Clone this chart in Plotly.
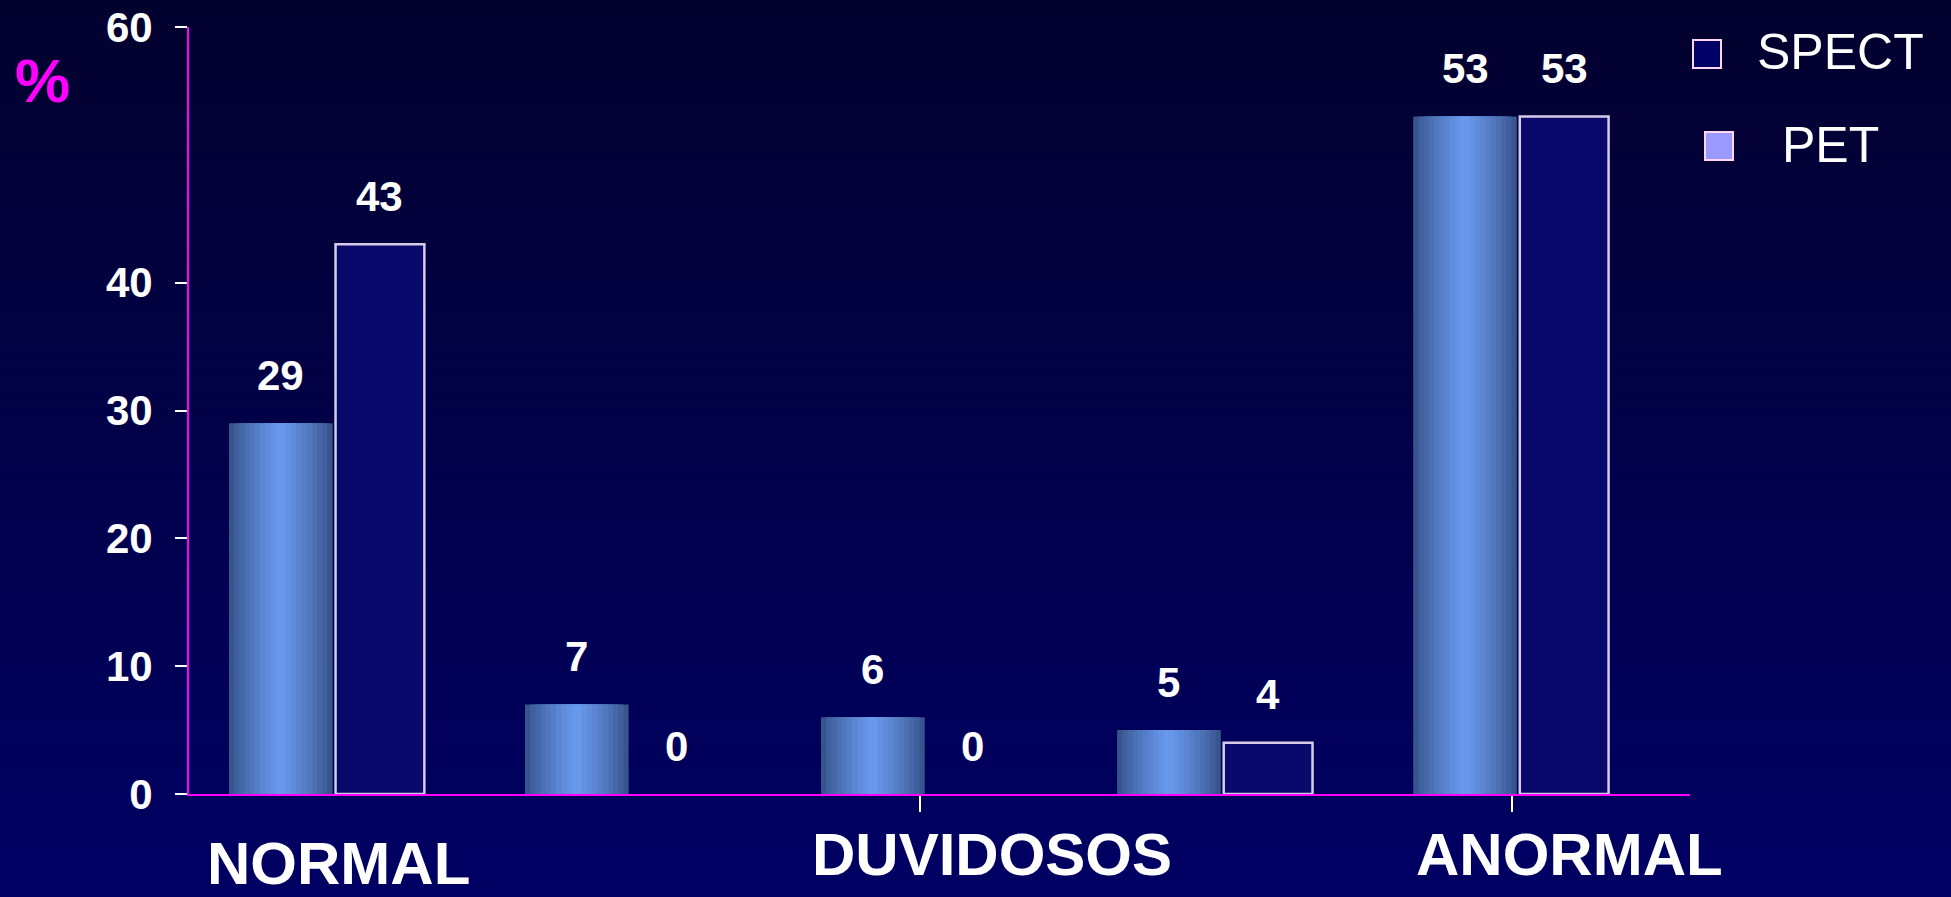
import plotly.graph_objects as go

# ---- data ----
slot_index = [0, 1, 2, 3, 4]
x_tick_slots = [2, 4]
x_label_text = ["NORMAL", "DUVIDOSOS", "ANORMAL"]
pet_values = [29, 7, 6, 5, 53]
spect_values = [43, 0, 0, 4, 53]
y_tick_values = [0, 10, 20, 30, 40, 60]

# ---- geometry (pixels) ----
W, H = 1951, 897
ML, MR, MT, MB = 189, 261, 27, 103
PW, PH = W - ML - MR, H - MT - MB


def px(xp):
    return (xp - ML) / PW


def py(yp):
    return (H - MB - yp) / PH


FONT = "Liberation Sans, Arial, sans-serif"
PET_W, PET_OFF = 0.35, -0.335
SPECT_W, SPECT_OFF = 0.30, 0.025

fig = go.Figure()

# PET bars: nested layers, darker at the edges and lighter toward the middle
edge_rgb = (56, 84, 140)
mid_rgb = (104, 152, 236)
n_layers = 10
for k in range(n_layers):
    frac = 1 - k / n_layers
    t = (k / (n_layers - 1)) ** 0.8
    col = "rgb({},{},{})".format(*[round(e + (m - e) * t) for e, m in zip(edge_rgb, mid_rgb)])
    fig.add_trace(go.Bar(
        x=slot_index, y=pet_values,
        width=PET_W * frac, offset=PET_OFF + PET_W * (1 - frac) / 2,
        marker=dict(color=col, line=dict(width=0)),
        name="PET", showlegend=False, hoverinfo="skip",
    ))

# SPECT bars: dark fill with a pale outline
fig.add_trace(go.Bar(
    x=slot_index, y=spect_values, width=SPECT_W, offset=SPECT_OFF,
    marker=dict(
        color="#09096c",
        line=dict(color=["#d6cbe8" if v > 0 else "rgba(0,0,0,0)" for v in spect_values], width=2.5),
    ),
    name="SPECT", showlegend=False,
))

annotations = []
label_font = dict(family=FONT, size=42, color="white", weight="bold")
# value labels above each bar
for xs, v in zip(slot_index, pet_values):
    annotations.append(dict(
        x=xs + PET_OFF + PET_W / 2, y=v, xref="x", yref="y", text=str(v),
        showarrow=False, yshift=48, font=label_font,
    ))
for xs, v in zip(slot_index, spect_values):
    annotations.append(dict(
        x=xs + SPECT_OFF + SPECT_W / 2, y=v, xref="x", yref="y", text=str(v),
        showarrow=False, yshift=48, font=label_font,
    ))

# category captions under the axis
caption_pos = [(338, 863), (992, 855), (1569, 855)]
for text, (cx, cy) in zip(x_label_text, caption_pos):
    annotations.append(dict(
        x=px(cx), y=py(cy), xref="paper", yref="paper", text=text, showarrow=False,
        xanchor="center", yanchor="middle",
        font=dict(family=FONT, size=60, color="white", weight="bold"),
    ))

# axis unit
annotations.append(dict(
    x=px(42), y=py(80), xref="paper", yref="paper", text="%", showarrow=False,
    xanchor="center", yanchor="middle",
    font=dict(family=FONT, size=62, color="#ff00ff", weight="bold"),
))

# legend
shapes = []
legend_items = [
    ("SPECT", "#000066", 1693, 40, 1755, 52),
    ("PET", "#9999ff", 1705, 132, 1780, 145),
]
for label, col, sx, sy, tx, ty in legend_items:
    shapes.append(dict(
        type="rect", xref="paper", yref="paper",
        x0=px(sx), x1=px(sx + 28), y0=py(sy + 28), y1=py(sy),
        fillcolor=col, line=dict(color="#ffd6f4", width=2), layer="above",
    ))
    annotations.append(dict(
        x=px(tx), y=py(ty), xref="paper", yref="paper", text=label, showarrow=False,
        xanchor="left", yanchor="middle",
        font=dict(family=FONT, size=50, color="white"),
    ))

# vertical background gradient, dark navy on top to deeper blue below
top_rgb = (3, 1, 46)
bot_rgb = (0, 0, 100)
n_strips = 90
for i in range(n_strips):
    t = i / (n_strips - 1)
    r = round(top_rgb[0] + (bot_rgb[0] - top_rgb[0]) * t)
    g = round(top_rgb[1] + (bot_rgb[1] - top_rgb[1]) * t)
    b = round(top_rgb[2] + (bot_rgb[2] - top_rgb[2]) * t)
    y_top = H * i / n_strips - (5 if i == 0 else 0)
    y_bot = H * (i + 1) / n_strips + (10 if i == n_strips - 1 else 1)
    shapes.append(dict(
        type="rect", xref="paper", yref="paper",
        x0=px(-5), x1=px(W + 5), y0=py(y_bot), y1=py(y_top),
        fillcolor=f"rgb({r},{g},{b})", line=dict(width=0), layer="below",
    ))

fig.update_layout(
    width=W, height=H,
    margin=dict(l=ML, r=MR, t=MT, b=MB, autoexpand=False),
    paper_bgcolor="rgb(0,0,100)",
    plot_bgcolor="rgba(0,0,0,0)",
    barmode="overlay",
    showlegend=False,
    shapes=shapes,
    annotations=annotations,
    font=dict(family=FONT, color="white"),
    xaxis=dict(
        range=[-0.47, 4.6],
        tickmode="array", tickvals=x_tick_slots, ticktext=["", ""],
        ticks="outside", ticklen=16, tickwidth=2, tickcolor="white",
        showline=True, linecolor="#ff00ff", linewidth=2,
        showgrid=False, zeroline=False, automargin=False,
    ),
    yaxis=dict(
        range=[0, 60],
        tickmode="array", tickvals=y_tick_values,
        ticks="outside", ticklen=12, tickwidth=2, tickcolor="white",
        tickfont=dict(family=FONT, size=42, color="white", weight="bold"),
        ticklabelstandoff=14,
        showline=True, linecolor="#ff00ff", linewidth=2,
        showgrid=False, zeroline=False, automargin=False,
    ),
)

fig.write_html("out.html")
